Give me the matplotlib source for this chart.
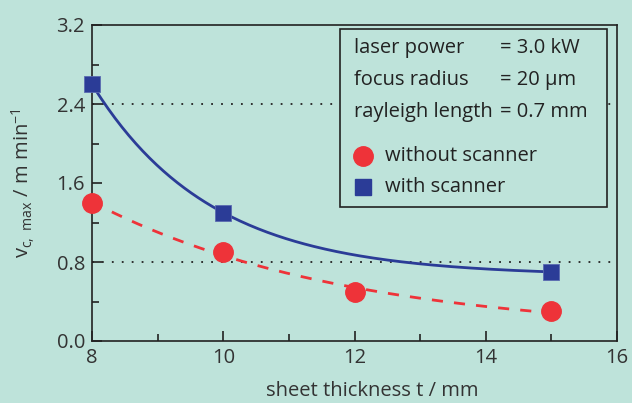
import numpy as np
import matplotlib.pyplot as plt
from matplotlib.patches import Rectangle

# measured points
t_without = [8, 10, 12, 15]
v_without = [1.4, 0.9, 0.5, 0.3]
t_with = [8, 10, 15]
v_with = [2.6, 1.3, 0.7]

x_ticks = [8, 10, 12, 14, 16]
y_ticks = [0.0, 0.8, 1.6, 2.4, 3.2]
params = [("laser power", "= 3.0 kW"),
          ("focus radius", "= 20 µm"),
          ("rayleigh length", "= 0.7 mm")]

BG = "#bee3da"
RED = "#ee3339"
BLUE = "#2b3c97"


def fit_decay(x, y):
    # y = c + a*exp(-k*(x-8)), grid search on k, linear lsq for a, c
    x = np.asarray(x, float)
    y = np.asarray(y, float)
    best = None
    for k in np.linspace(0.05, 2.0, 2000):
        A = np.column_stack([np.exp(-k * (x - 8)), np.ones_like(x)])
        coef, *_ = np.linalg.lstsq(A, y, rcond=None)
        err = np.sum((A @ coef - y) ** 2)
        if best is None or err < best[0]:
            best = (err, k, coef)
    _, k, (a, c) = best
    return lambda xx: c + a * np.exp(-k * (xx - 8))


plt.rcParams["font.family"] = ["Open Sans", "DejaVu Sans"]
plt.rcParams["mathtext.default"] = "regular"

fig = plt.figure(figsize=(6.32, 4.03), dpi=100, facecolor=BG)
ax = fig.add_axes([92 / 632, 1 - 341 / 403, 525 / 632, 316 / 403])
ax.set_facecolor(BG)

xx = np.linspace(8, 15, 200)
f_with = fit_decay(t_with, v_with)
f_without = fit_decay(t_without, v_without)

ax.axhline(2.4, color="#222222", ls=(0, (1, 4.5)), lw=1.3, zorder=1)
ax.axhline(0.8, color="#222222", ls=(0, (1, 4.5)), lw=1.3, zorder=1)

ax.plot(xx, f_with(xx), color=BLUE, lw=2, zorder=2)
ax.plot(xx, f_without(xx), color=RED, lw=2, ls=(0, (4, 4)), zorder=2)
ax.plot(t_with, v_with, "s", color=BLUE, ms=12, mec="#5a6ab0", mew=0.6,
        zorder=3, clip_on=False)
ax.plot(t_without, v_without, "o", color=RED, ms=14, mec=RED, zorder=3,
        clip_on=False)

ax.set_xlim(8, 16)
ax.set_ylim(0, 3.2)
ax.set_xticks(x_ticks)
ax.set_xticks([9, 11, 13, 15], minor=True)
ax.set_yticks(y_ticks)
ax.set_yticks([0.4, 1.2, 2.0, 2.8], minor=True)
ax.set_yticklabels([f"{v:.1f}" for v in y_ticks])
ax.tick_params(which="both", direction="in", color="#222222",
               labelsize=14.5, labelcolor="#333333", width=1.2)
ax.tick_params(which="major", length=7, pad=5)
ax.tick_params(which="minor", length=5)
for s in ax.spines.values():
    s.set_color("#222222")
    s.set_linewidth(1.2)

ax.set_xlabel("sheet thickness t / mm", fontsize=14.5, color="#333333")
ax.xaxis.set_label_coords(0.533, -0.125)
ax.set_ylabel(r"v$_{c,\ max}$ / m min$^{-1}$", fontsize=14.5, color="#333333")
ax.yaxis.set_label_coords(-0.105, 0.5)

# info box
box = Rectangle((0.472, 0.424), 0.509, 0.563, transform=ax.transAxes,
                fill=True, facecolor=BG, edgecolor="#222222", lw=1.2, zorder=4)
ax.add_patch(box)
ys = [48, 80, 112]
for (name, val), yp in zip(params, ys):
    yf = (341 - yp) / 316
    ax.text((354 - 92) / 525, yf, name, transform=ax.transAxes, fontsize=14.5,
            va="center", color="#222222", zorder=5)
    ax.text((500 - 92) / 525, yf, val, transform=ax.transAxes, fontsize=14.5,
            va="center", color="#222222", zorder=5)

ax.plot([(363 - 92) / 525], [(341 - 156) / 316], "o", color=RED, ms=14,
        transform=ax.transAxes, zorder=5, clip_on=False)
ax.text((385 - 92) / 525, (341 - 156) / 316, "without scanner",
        transform=ax.transAxes, fontsize=14.5, va="center", color="#222222",
        zorder=5)
ax.plot([(363 - 92) / 525], [(341 - 187) / 316], "s", color=BLUE, ms=12,
        transform=ax.transAxes, zorder=5, clip_on=False)
ax.text((385 - 92) / 525, (341 - 187) / 316, "with scanner",
        transform=ax.transAxes, fontsize=14.5, va="center", color="#222222",
        zorder=5)

fig.savefig("out.png", dpi=100, facecolor=BG)
